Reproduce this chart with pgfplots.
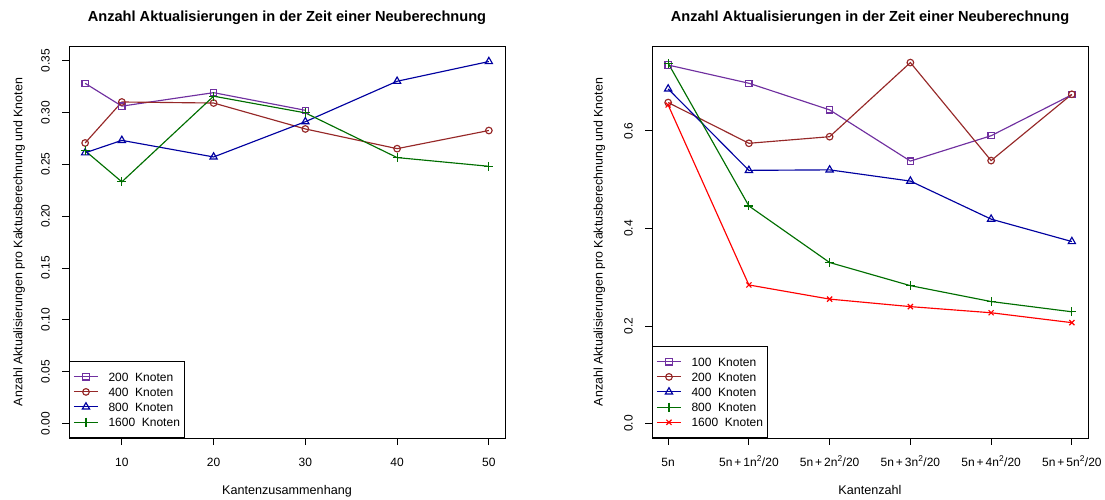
\documentclass[border=0pt]{standalone}
\usepackage{fontspec}
\setmainfont{Liberation Sans}
\usepackage{pgfplots}
\pgfplotsset{compat=1.18}
\definecolor{cPurple}{RGB}{112,48,160}
\definecolor{cBrown}{RGB}{150,40,40}
\definecolor{cBlue}{RGB}{0,0,160}
\definecolor{cGreen}{RGB}{0,110,0}
\definecolor{cRed}{RGB}{255,0,0}
\pgfplotsset{
  rstyle/.style={
    scale only axis, width=436bp, height=392bp,
    font=\fontsize{12bp}{14bp}\selectfont,
    /pgf/number format/assume math mode=true,
    axis line style={line width=0.8bp},
    tick style={line width=0.8bp, black},
    tick align=outside, major tick length=7bp,
    xtick pos=bottom, ytick pos=left,
    scaled ticks=false,
    yticklabel style={rotate=90, anchor=south, inner sep=0pt},
    xticklabel style={anchor=base, inner sep=0pt},
    clip=false,
    every axis title/.style={at={(axis description cs:0.5,1.0625)}, anchor=base, font=\fontsize{14.6bp}{16bp}\selectfont\bfseries},
    every axis x label/.style={at={(axis description cs:0.5,-0.1441)}, anchor=base, font=\fontsize{12.6bp}{14bp}\selectfont},
    legend cell align=left,
    legend image code/.code={\draw[mark repeat=2,mark phase=2,#1] plot coordinates {(0bp,0bp) (12bp,0bp) (24bp,0bp)};},
    legend style={at={(axis description cs:0,0)}, anchor=south west, draw=black, line width=0.8bp, fill=white,
      inner xsep=4bp, inner ysep=11bp, row sep=6.4bp, column sep=10bp,
      nodes={inner sep=0pt, text height=8.6bp, text depth=0pt, font=\fontsize{12bp}{14bp}\selectfont}},
  },
  sP/.style={cPurple, line width=1.15bp, mark=square, mark size=3.1bp, mark options={solid, fill=white}},
  sB/.style={cBrown, line width=1.15bp, mark=o, mark size=3.3bp, mark options={solid, fill=white}},
  sL/.style={cBlue, line width=1.15bp, mark=triangle, mark size=4.2bp, mark options={solid, fill=white}},
  sG/.style={cGreen, line width=1.15bp, mark=+, mark size=4.5bp, mark options={solid}},
  sR/.style={cRed, line width=1.15bp, mark=x, mark size=3.6bp, mark options={solid}},
}
\begin{document}
\begin{tikzpicture}
\useasboundingbox (0bp,0bp) rectangle (1105bp,500bp);
\begin{axis}[rstyle, at={(69bp,62bp)}, anchor=south west,
  xmin=4.24, xmax=51.76, ymin=-0.014, ymax=0.364,
  xtick={10,20,30,40,50},
  ytick={0,0.05,0.1,0.15,0.2,0.25,0.3,0.35},
  yticklabel style={/pgf/number format/.cd, fixed, fixed zerofill, precision=2},
  title={Anzahl Aktualisierungen in der Zeit einer Neuberechnung},
  xlabel={Kantenzusammenhang},
  ylabel={Anzahl Aktualisierungen pro Kaktusberechnung und Knoten},
  every axis y label/.style={at={(axis description cs:-0.1067,0.5)}, rotate=90, anchor=base, font=\fontsize{12.4bp}{14bp}\selectfont},
  yticklabel shift=12bp, xticklabel shift=21bp,
]
\addplot[sP] coordinates {(6,0.328) (10,0.306) (20,0.319) (30,0.302)};
\addplot[sB] coordinates {(6,0.2705) (10,0.310) (20,0.309) (30,0.284) (40,0.265) (50,0.2825)};
\addplot[sL] coordinates {(6,0.261) (10,0.273) (20,0.257) (30,0.291) (40,0.330) (50,0.349)};
\addplot[sG] coordinates {(6,0.263) (10,0.233) (20,0.3156) (30,0.2995) (40,0.2564) (50,0.248)};
\legend{200~~Knoten, 400~~Knoten, 800~~Knoten, 1600~~Knoten}
\end{axis}
\begin{axis}[rstyle, at={(652bp,62bp)}, anchor=south west,
  xmin=-0.2, xmax=5.2, ymin=-0.0298, ymax=0.774,
  xtick={0,1,2,3,4,5},
  xticklabels={5n, 5n\,+\,1n\textsuperscript{2}/20, 5n\,+\,2n\textsuperscript{2}/20, 5n\,+\,3n\textsuperscript{2}/20, 5n\,+\,4n\textsuperscript{2}/20, 5n\,+\,5n\textsuperscript{2}/20},
  ytick={0,0.2,0.4,0.6},
  yticklabel style={/pgf/number format/.cd, fixed, fixed zerofill, precision=1},
  title={Anzahl Aktualisierungen in der Zeit einer Neuberechnung},
  xlabel={Kantenzahl},
  ylabel={Anzahl Aktualisierungen pro Kaktusberechnung und Knoten},
  every axis y label/.style={at={(axis description cs:-0.1135,0.5)}, rotate=90, anchor=base, font=\fontsize{12.4bp}{14bp}\selectfont},
  yticklabel shift=12bp, xticklabel shift=21bp,
]
\addplot[sP] coordinates {(0,0.735) (1,0.6976) (2,0.643) (3,0.538) (4,0.590) (5,0.674)};
\addplot[sB] coordinates {(0,0.658) (1,0.5745) (2,0.588) (3,0.740) (4,0.539) (5,0.675)};
\addplot[sL] coordinates {(0,0.686) (1,0.519) (2,0.520) (3,0.497) (4,0.419) (5,0.373)};
\addplot[sG] coordinates {(0,0.7386) (1,0.446) (2,0.330) (3,0.2826) (4,0.250) (5,0.229)};
\addplot[sR] coordinates {(0,0.653) (1,0.284) (2,0.255) (3,0.2396) (4,0.227) (5,0.2067)};
\legend{100~~Knoten, 200~~Knoten, 400~~Knoten, 800~~Knoten, 1600~~Knoten}
\end{axis}
\end{tikzpicture}
\end{document}
